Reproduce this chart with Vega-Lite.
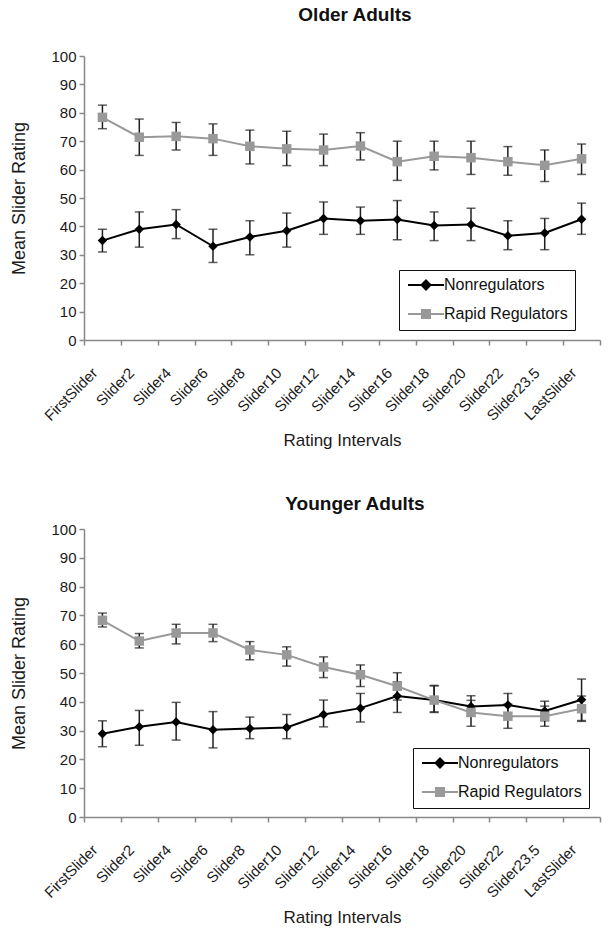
{
  "$schema": "https://vega.github.io/schema/vega-lite/v6.json",
  "background": "white",
  "padding": {"left": 10, "top": 6, "right": 4, "bottom": 6},
  "config": {
    "font": "Liberation Sans",
    "view": {"stroke": null},
    "concat": {"spacing": 46},
    "axis": {
      "domainColor": "#888888",
      "tickColor": "#888888",
      "domainWidth": 1.5,
      "tickWidth": 1.5,
      "grid": false,
      "labelFont": "Liberation Sans",
      "labelFontSize": 15,
      "labelColor": "#1a1a1a",
      "titleFont": "Liberation Sans",
      "titleFontSize": 17,
      "titleFontWeight": "normal",
      "titleColor": "#1a1a1a"
    },
    "axisY": {
      "values": [0, 10, 20, 30, 40, 50, 60, 70, 80, 90, 100],
      "labelOverlap": false,
      "titleFontSize": 18,
      "tickSize": 5,
      "labelPadding": 3,
      "titlePadding": 22
    },
    "legend": {
      "labelFont": "Liberation Sans"
    }
  },
  "resolve": {
    "scale": {"fill": "independent", "stroke": "independent", "shape": "independent"},
    "legend": {"fill": "independent", "stroke": "independent", "shape": "independent"}
  },
  "datasets": {
    "d": [
      {"panel": "Older Adults", "interval": "FirstSlider", "group": "Nonregulators", "mean": 35.0, "lo": 31.0, "hi": 39.0},
      {"panel": "Older Adults", "interval": "Slider2", "group": "Nonregulators", "mean": 39.0, "lo": 32.7, "hi": 45.1},
      {"panel": "Older Adults", "interval": "Slider4", "group": "Nonregulators", "mean": 40.7, "lo": 35.7, "hi": 45.9},
      {"panel": "Older Adults", "interval": "Slider6", "group": "Nonregulators", "mean": 33.0, "lo": 27.3, "hi": 39.0},
      {"panel": "Older Adults", "interval": "Slider8", "group": "Nonregulators", "mean": 36.3, "lo": 30.0, "hi": 42.0},
      {"panel": "Older Adults", "interval": "Slider10", "group": "Nonregulators", "mean": 38.5, "lo": 32.7, "hi": 44.7},
      {"panel": "Older Adults", "interval": "Slider12", "group": "Nonregulators", "mean": 42.8, "lo": 37.2, "hi": 48.6},
      {"panel": "Older Adults", "interval": "Slider14", "group": "Nonregulators", "mean": 42.0, "lo": 37.2, "hi": 46.8},
      {"panel": "Older Adults", "interval": "Slider16", "group": "Nonregulators", "mean": 42.4, "lo": 35.3, "hi": 49.1},
      {"panel": "Older Adults", "interval": "Slider18", "group": "Nonregulators", "mean": 40.3, "lo": 35.0, "hi": 45.1},
      {"panel": "Older Adults", "interval": "Slider20", "group": "Nonregulators", "mean": 40.7, "lo": 35.0, "hi": 46.4},
      {"panel": "Older Adults", "interval": "Slider22", "group": "Nonregulators", "mean": 36.7, "lo": 31.8, "hi": 42.0},
      {"panel": "Older Adults", "interval": "Slider23.5", "group": "Nonregulators", "mean": 37.7, "lo": 31.8, "hi": 42.8},
      {"panel": "Older Adults", "interval": "LastSlider", "group": "Nonregulators", "mean": 42.5, "lo": 37.2, "hi": 48.2},
      {"panel": "Older Adults", "interval": "FirstSlider", "group": "Rapid Regulators", "mean": 78.4, "lo": 74.4, "hi": 82.7},
      {"panel": "Older Adults", "interval": "Slider2", "group": "Rapid Regulators", "mean": 71.4, "lo": 65.0, "hi": 77.8},
      {"panel": "Older Adults", "interval": "Slider4", "group": "Rapid Regulators", "mean": 71.7, "lo": 66.9, "hi": 76.6},
      {"panel": "Older Adults", "interval": "Slider6", "group": "Rapid Regulators", "mean": 70.9, "lo": 65.0, "hi": 76.1},
      {"panel": "Older Adults", "interval": "Slider8", "group": "Rapid Regulators", "mean": 68.2, "lo": 62.0, "hi": 73.9},
      {"panel": "Older Adults", "interval": "Slider10", "group": "Rapid Regulators", "mean": 67.3, "lo": 61.4, "hi": 73.5},
      {"panel": "Older Adults", "interval": "Slider12", "group": "Rapid Regulators", "mean": 66.9, "lo": 61.4, "hi": 72.5},
      {"panel": "Older Adults", "interval": "Slider14", "group": "Rapid Regulators", "mean": 68.3, "lo": 63.4, "hi": 73.0},
      {"panel": "Older Adults", "interval": "Slider16", "group": "Rapid Regulators", "mean": 62.8, "lo": 56.2, "hi": 70.0},
      {"panel": "Older Adults", "interval": "Slider18", "group": "Rapid Regulators", "mean": 64.7, "lo": 59.9, "hi": 70.0},
      {"panel": "Older Adults", "interval": "Slider20", "group": "Rapid Regulators", "mean": 64.2, "lo": 58.3, "hi": 70.0},
      {"panel": "Older Adults", "interval": "Slider22", "group": "Rapid Regulators", "mean": 62.8, "lo": 58.0, "hi": 68.1},
      {"panel": "Older Adults", "interval": "Slider23.5", "group": "Rapid Regulators", "mean": 61.5, "lo": 55.8, "hi": 66.9},
      {"panel": "Older Adults", "interval": "LastSlider", "group": "Rapid Regulators", "mean": 63.8, "lo": 58.3, "hi": 69.0},
      {"panel": "Younger Adults", "interval": "FirstSlider", "group": "Nonregulators", "mean": 28.9, "lo": 24.4, "hi": 33.4},
      {"panel": "Younger Adults", "interval": "Slider2", "group": "Nonregulators", "mean": 31.3, "lo": 24.9, "hi": 37.0},
      {"panel": "Younger Adults", "interval": "Slider4", "group": "Nonregulators", "mean": 33.0, "lo": 26.7, "hi": 39.8},
      {"panel": "Younger Adults", "interval": "Slider6", "group": "Nonregulators", "mean": 30.3, "lo": 24.0, "hi": 36.6},
      {"panel": "Younger Adults", "interval": "Slider8", "group": "Nonregulators", "mean": 30.7, "lo": 27.2, "hi": 34.7},
      {"panel": "Younger Adults", "interval": "Slider10", "group": "Nonregulators", "mean": 31.1, "lo": 27.2, "hi": 35.6},
      {"panel": "Younger Adults", "interval": "Slider12", "group": "Nonregulators", "mean": 35.6, "lo": 31.3, "hi": 40.6},
      {"panel": "Younger Adults", "interval": "Slider14", "group": "Nonregulators", "mean": 37.8, "lo": 33.0, "hi": 42.9},
      {"panel": "Younger Adults", "interval": "Slider16", "group": "Nonregulators", "mean": 42.0, "lo": 36.3, "hi": 46.9},
      {"panel": "Younger Adults", "interval": "Slider18", "group": "Nonregulators", "mean": 40.6, "lo": 36.5, "hi": 45.7},
      {"panel": "Younger Adults", "interval": "Slider20", "group": "Nonregulators", "mean": 38.4, "lo": 35.0, "hi": 42.1},
      {"panel": "Younger Adults", "interval": "Slider22", "group": "Nonregulators", "mean": 38.9, "lo": 34.9, "hi": 42.9},
      {"panel": "Younger Adults", "interval": "Slider23.5", "group": "Nonregulators", "mean": 36.8, "lo": 33.4, "hi": 40.2},
      {"panel": "Younger Adults", "interval": "LastSlider", "group": "Nonregulators", "mean": 40.7, "lo": 33.5, "hi": 47.9},
      {"panel": "Younger Adults", "interval": "FirstSlider", "group": "Rapid Regulators", "mean": 68.3, "lo": 66.0, "hi": 70.8},
      {"panel": "Younger Adults", "interval": "Slider2", "group": "Rapid Regulators", "mean": 61.1, "lo": 58.7, "hi": 63.7},
      {"panel": "Younger Adults", "interval": "Slider4", "group": "Rapid Regulators", "mean": 63.9, "lo": 60.1, "hi": 66.9},
      {"panel": "Younger Adults", "interval": "Slider6", "group": "Rapid Regulators", "mean": 63.9, "lo": 60.9, "hi": 66.9},
      {"panel": "Younger Adults", "interval": "Slider8", "group": "Rapid Regulators", "mean": 58.0, "lo": 54.6, "hi": 60.9},
      {"panel": "Younger Adults", "interval": "Slider10", "group": "Rapid Regulators", "mean": 56.3, "lo": 52.4, "hi": 59.1},
      {"panel": "Younger Adults", "interval": "Slider12", "group": "Rapid Regulators", "mean": 52.1, "lo": 48.4, "hi": 55.6},
      {"panel": "Younger Adults", "interval": "Slider14", "group": "Rapid Regulators", "mean": 49.4, "lo": 45.3, "hi": 52.8},
      {"panel": "Younger Adults", "interval": "Slider16", "group": "Rapid Regulators", "mean": 45.4, "lo": 40.6, "hi": 50.1},
      {"panel": "Younger Adults", "interval": "Slider18", "group": "Rapid Regulators", "mean": 40.6, "lo": 36.3, "hi": 45.5},
      {"panel": "Younger Adults", "interval": "Slider20", "group": "Rapid Regulators", "mean": 36.3, "lo": 31.5, "hi": 40.5},
      {"panel": "Younger Adults", "interval": "Slider22", "group": "Rapid Regulators", "mean": 35.0, "lo": 30.8, "hi": 39.2},
      {"panel": "Younger Adults", "interval": "Slider23.5", "group": "Rapid Regulators", "mean": 35.0, "lo": 31.5, "hi": 38.5},
      {"panel": "Younger Adults", "interval": "LastSlider", "group": "Rapid Regulators", "mean": 37.6, "lo": 33.2, "hi": 42.0}
    ]
  },
  "vconcat": [
    {
      "data": {"name": "d"},
      "transform": [{"filter": "datum.panel === 'Older Adults'"}],
      "width": 516,
      "height": 284,
      "title": {"text": "Older Adults", "fontSize": 19, "fontWeight": "bold", "font": "Liberation Sans", "color": "#111111", "frame": "group", "anchor": "middle", "dx": 13, "offset": 24},
      "encoding": {
        "x": {
          "field": "interval", "type": "nominal",
          "sort": ["FirstSlider", "Slider2", "Slider4", "Slider6", "Slider8", "Slider10", "Slider12", "Slider14", "Slider16", "Slider18", "Slider20", "Slider22", "Slider23.5", "LastSlider"],
          "scale": {"paddingInner": 0, "paddingOuter": 0},
          "title": "Rating Intervals",
          "axis": {"labelAngle": -45, "labelAlign": "right", "labelBaseline": "top", "labelPadding": 20, "labelOffset": -13, "labelFontSize": 15, "labelOverlap": false, "tickBand": "extent", "tickSize": 5, "titlePadding": 9, "titleFontSize": 17}
        },
        "y": {"field": "mean", "type": "quantitative", "title": "Mean Slider Rating", "scale": {"domain": [0, 100], "nice": false}, "axis": {"values": [0, 10, 20, 30, 40, 50, 60, 70, 80, 90, 100], "labelOverlap": false}}
      },
      "layer": [
        {
          "mark": {"type": "line", "strokeWidth": 2},
          "encoding": {
            "detail": {"field": "group", "type": "nominal"},
            "color": {"condition": {"test": "datum.group === 'Nonregulators'", "value": "#000000"}, "value": "#999999"}
          }
        },
        {
          "mark": {"type": "rule", "color": "#1e1e1e", "strokeWidth": 1.5},
          "encoding": {
            "y": {"field": "lo", "type": "quantitative", "title": "Mean Slider Rating", "axis": {"values": [0, 10, 20, 30, 40, 50, 60, 70, 80, 90, 100], "labelOverlap": false}},
            "y2": {"field": "hi"}
          }
        },
        {
          "mark": {"type": "tick", "color": "#1e1e1e", "thickness": 1.5, "size": 9},
          "encoding": {
            "y": {"field": "lo", "type": "quantitative", "title": "Mean Slider Rating", "axis": {"values": [0, 10, 20, 30, 40, 50, 60, 70, 80, 90, 100], "labelOverlap": false}}
          }
        },
        {
          "mark": {"type": "tick", "color": "#1e1e1e", "thickness": 1.5, "size": 9},
          "encoding": {
            "y": {"field": "hi", "type": "quantitative", "title": "Mean Slider Rating", "axis": {"values": [0, 10, 20, 30, 40, 50, 60, 70, 80, 90, 100], "labelOverlap": false}}
          }
        },
        {
          "mark": {"type": "point", "filled": true, "opacity": 1, "size": 90},
          "encoding": {
            "color": {"condition": {"test": "datum.group === 'Nonregulators'", "value": "#000000"}, "value": "#999999"},
            "shape": {"condition": {"test": "datum.group === 'Nonregulators'", "value": "diamond"}, "value": "square"}
          }
        },
        {
          "transform": [{"filter": "false"}],
          "mark": {"type": "point", "filled": true, "opacity": 1, "strokeWidth": 2},
          "encoding": {
            "fill": {"field": "group", "type": "nominal", "scale": {"domain": ["Nonregulators", "Rapid Regulators"], "range": ["#000000", "#999999"]},
              "legend": {"title": null, "orient": "none", "legendX": 315, "legendY": 214, "strokeColor": "#111111", "fillColor": "white", "padding": 7, "rowPadding": 11, "labelFontSize": 16, "labelColor": "#111111", "symbolSize": 144, "symbolStrokeWidth": 2, "symbolOpacity": 1, "labelOffset": 22, "labelExpr": "datum.label + '\u00a0\u00a0\u00a0'"}},
            "stroke": {"field": "group", "type": "nominal", "scale": {"domain": ["Nonregulators", "Rapid Regulators"], "range": ["#000000", "#999999"]},
              "legend": {"title": null, "orient": "none", "legendX": 315, "legendY": 214, "strokeColor": "#111111", "fillColor": "white", "padding": 7, "rowPadding": 11, "labelFontSize": 16, "labelColor": "#111111", "symbolSize": 144, "symbolStrokeWidth": 2, "symbolOpacity": 1, "labelOffset": 22, "labelExpr": "datum.label + '\u00a0\u00a0\u00a0'"}},
            "shape": {"field": "group", "type": "nominal", "scale": {"domain": ["Nonregulators", "Rapid Regulators"], "range": ["M-1,0H5M2,-0.75L2.75,0L2,0.75L1.25,0Z", "M-1,0H5M1.33,-0.67H2.67V0.67H1.33Z"]},
              "legend": {"title": null, "orient": "none", "legendX": 315, "legendY": 214, "strokeColor": "#111111", "fillColor": "white", "padding": 7, "rowPadding": 11, "labelFontSize": 16, "labelColor": "#111111", "symbolSize": 144, "symbolStrokeWidth": 2, "symbolOpacity": 1, "labelOffset": 22, "labelExpr": "datum.label + '\u00a0\u00a0\u00a0'"}}
          }
        }
      ]
    },
    {
      "data": {"name": "d"},
      "transform": [{"filter": "datum.panel === 'Younger Adults'"}],
      "width": 516,
      "height": 288,
      "title": {"text": "Younger Adults", "fontSize": 19, "fontWeight": "bold", "font": "Liberation Sans", "color": "#111111", "frame": "group", "anchor": "middle", "dx": 13, "offset": 8},
      "encoding": {
        "x": {
          "field": "interval", "type": "nominal",
          "sort": ["FirstSlider", "Slider2", "Slider4", "Slider6", "Slider8", "Slider10", "Slider12", "Slider14", "Slider16", "Slider18", "Slider20", "Slider22", "Slider23.5", "LastSlider"],
          "scale": {"paddingInner": 0, "paddingOuter": 0},
          "title": "Rating Intervals",
          "axis": {"labelAngle": -45, "labelAlign": "right", "labelBaseline": "top", "labelPadding": 20, "labelOffset": -13, "labelFontSize": 15, "labelOverlap": false, "tickBand": "extent", "tickSize": 5, "titlePadding": 9, "titleFontSize": 17}
        },
        "y": {"field": "mean", "type": "quantitative", "title": "Mean Slider Rating", "scale": {"domain": [0, 100], "nice": false}, "axis": {"values": [0, 10, 20, 30, 40, 50, 60, 70, 80, 90, 100], "labelOverlap": false}}
      },
      "layer": [
        {
          "mark": {"type": "line", "strokeWidth": 2},
          "encoding": {
            "detail": {"field": "group", "type": "nominal"},
            "color": {"condition": {"test": "datum.group === 'Nonregulators'", "value": "#000000"}, "value": "#999999"}
          }
        },
        {
          "mark": {"type": "rule", "color": "#1e1e1e", "strokeWidth": 1.5},
          "encoding": {
            "y": {"field": "lo", "type": "quantitative", "title": "Mean Slider Rating", "axis": {"values": [0, 10, 20, 30, 40, 50, 60, 70, 80, 90, 100], "labelOverlap": false}},
            "y2": {"field": "hi"}
          }
        },
        {
          "mark": {"type": "tick", "color": "#1e1e1e", "thickness": 1.5, "size": 9},
          "encoding": {
            "y": {"field": "lo", "type": "quantitative", "title": "Mean Slider Rating", "axis": {"values": [0, 10, 20, 30, 40, 50, 60, 70, 80, 90, 100], "labelOverlap": false}}
          }
        },
        {
          "mark": {"type": "tick", "color": "#1e1e1e", "thickness": 1.5, "size": 9},
          "encoding": {
            "y": {"field": "hi", "type": "quantitative", "title": "Mean Slider Rating", "axis": {"values": [0, 10, 20, 30, 40, 50, 60, 70, 80, 90, 100], "labelOverlap": false}}
          }
        },
        {
          "mark": {"type": "point", "filled": true, "opacity": 1, "size": 90},
          "encoding": {
            "color": {"condition": {"test": "datum.group === 'Nonregulators'", "value": "#000000"}, "value": "#999999"},
            "shape": {"condition": {"test": "datum.group === 'Nonregulators'", "value": "diamond"}, "value": "square"}
          }
        },
        {
          "transform": [{"filter": "false"}],
          "mark": {"type": "point", "filled": true, "opacity": 1, "strokeWidth": 2},
          "encoding": {
            "fill": {"field": "group", "type": "nominal", "scale": {"domain": ["Nonregulators", "Rapid Regulators"], "range": ["#000000", "#999999"]},
              "legend": {"title": null, "orient": "none", "legendX": 329, "legendY": 219, "strokeColor": "#111111", "fillColor": "white", "padding": 7, "rowPadding": 11, "labelFontSize": 16, "labelColor": "#111111", "symbolSize": 144, "symbolStrokeWidth": 2, "symbolOpacity": 1, "labelOffset": 22, "labelExpr": "datum.label + '\u00a0\u00a0\u00a0'"}},
            "stroke": {"field": "group", "type": "nominal", "scale": {"domain": ["Nonregulators", "Rapid Regulators"], "range": ["#000000", "#999999"]},
              "legend": {"title": null, "orient": "none", "legendX": 329, "legendY": 219, "strokeColor": "#111111", "fillColor": "white", "padding": 7, "rowPadding": 11, "labelFontSize": 16, "labelColor": "#111111", "symbolSize": 144, "symbolStrokeWidth": 2, "symbolOpacity": 1, "labelOffset": 22, "labelExpr": "datum.label + '\u00a0\u00a0\u00a0'"}},
            "shape": {"field": "group", "type": "nominal", "scale": {"domain": ["Nonregulators", "Rapid Regulators"], "range": ["M-1,0H5M2,-0.75L2.75,0L2,0.75L1.25,0Z", "M-1,0H5M1.33,-0.67H2.67V0.67H1.33Z"]},
              "legend": {"title": null, "orient": "none", "legendX": 329, "legendY": 219, "strokeColor": "#111111", "fillColor": "white", "padding": 7, "rowPadding": 11, "labelFontSize": 16, "labelColor": "#111111", "symbolSize": 144, "symbolStrokeWidth": 2, "symbolOpacity": 1, "labelOffset": 22, "labelExpr": "datum.label + '\u00a0\u00a0\u00a0'"}}
          }
        }
      ]
    }
  ]
}
